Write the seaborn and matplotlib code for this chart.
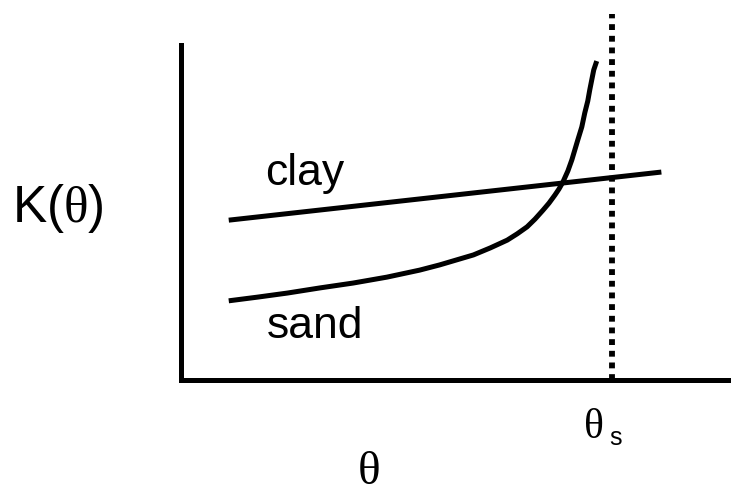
import numpy as np
import pandas as pd
import matplotlib
matplotlib.use("Agg")
import matplotlib.pyplot as plt
import seaborn as sns

# schematic K(theta) curves for clay and sand (arbitrary units)
clay_theta = [0.048, 0.483]
clay_K = [0.432, 0.562]

sand_theta = [0.048, 0.077, 0.107, 0.140, 0.173, 0.207, 0.240, 0.260,
              0.294, 0.311, 0.328, 0.338, 0.348, 0.356, 0.364, 0.370,
              0.376, 0.380, 0.384, 0.389, 0.393, 0.396, 0.399, 0.403,
              0.406, 0.409, 0.411, 0.413, 0.415, 0.418]
sand_K = [0.214, 0.224, 0.235, 0.249, 0.262, 0.278, 0.297, 0.311,
          0.338, 0.357, 0.378, 0.395, 0.414, 0.435, 0.459, 0.478,
          0.500, 0.516, 0.535, 0.565, 0.595, 0.622, 0.649, 0.684,
          0.722, 0.754, 0.784, 0.811, 0.838, 0.862]

theta_s = 0.433

df_clay = pd.DataFrame({"theta": clay_theta, "K": clay_K})
df_sand = pd.DataFrame({"theta": sand_theta, "K": sand_K})

sns.set_style("white")
plt.rcParams["font.family"] = ["Liberation Sans", "DejaVu Sans"]
plt.rcParams["text.color"] = "black"
plt.rcParams["mathtext.fontset"] = "custom"
plt.rcParams["mathtext.rm"] = "Liberation Serif"
plt.rcParams["mathtext.sf"] = "Liberation Sans"

W, H = 731, 493
fig = plt.figure(figsize=(W / 100, H / 100), dpi=100)
ax = fig.add_axes([181 / W, (H - 380) / H, (728 - 181) / W, (380 - 10) / H])

sns.lineplot(data=df_clay, x="theta", y="K", color="black", linewidth=3.6,
             estimator=None, ax=ax, solid_capstyle="butt")
sns.lineplot(data=df_sand, x="theta", y="K", color="black", linewidth=3.6,
             estimator=None, ax=ax, solid_capstyle="butt",
             solid_joinstyle="round")
ax.vlines(theta_s, 0, 0.99, color="black", lw=4.2,
          linestyles=(0, (1.0, 1.0)), capstyle="butt")

ax.set_xlim(0, 0.55)
ax.set_ylim(0, 1)
ax.set_xticks([])
ax.set_yticks([])
ax.set_xlabel("")
ax.set_ylabel("")
for s in ["top", "right"]:
    ax.spines[s].set_visible(False)
for s in ["left", "bottom"]:
    ax.spines[s].set_linewidth(3.6)
    ax.spines[s].set_color("black")
ax.spines["left"].set_bounds(0, 0.905)

# labels
ax.text(0.085, 0.527, "clay", fontsize=32, color="black", ha="left", va="baseline")
ax.text(0.086, 0.113, "sand", fontsize=32, color="black", ha="left", va="baseline")

fig.text(12 / W, (H - 222) / H, r"K($\mathrm{\theta}$)", fontsize=37,
         color="black", ha="left", va="baseline")
fig.text(584 / W, (H - 438) / H, "θ", fontsize=30, family="Liberation Serif",
         color="black", ha="left", va="baseline")
fig.text(609 / W, (H - 445) / H, "s", fontsize=18, color="black",
         ha="left", va="baseline")
fig.text(358 / W, (H - 484) / H, "θ", fontsize=34, family="Liberation Serif",
         color="black", ha="left", va="baseline")

fig.savefig("out.png", dpi=100)
